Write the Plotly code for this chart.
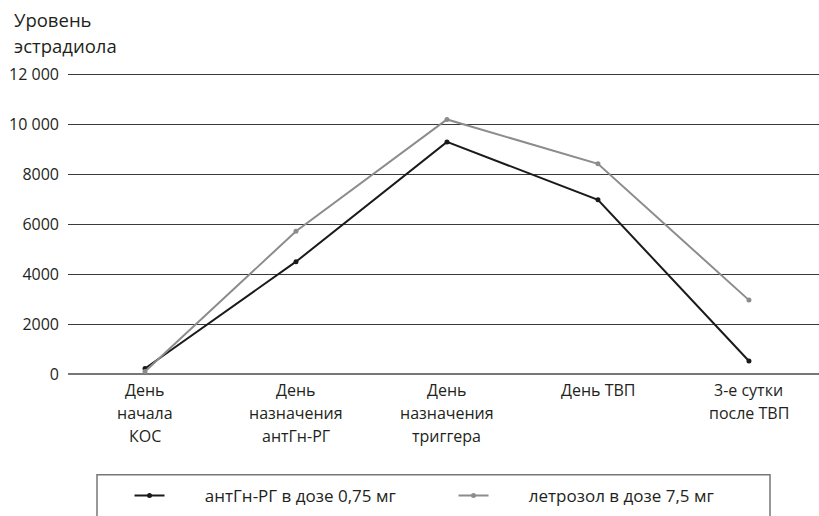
import plotly.graph_objects as go

categories = ["День<br>начала<br>КОС", "День<br>назначения<br>антГн-РГ", "День<br>назначения<br>триггера",
              "День ТВП", "3-е сутки<br>после ТВП"]
antgn = [220, 4500, 9300, 6980, 520]
letrozol = [100, 5720, 10200, 8420, 2960]
series_names = ["антГн-РГ в дозе 0,75 мг", "летрозол в дозе 7,5 мг"]
y_ticks = [0, 2000, 4000, 6000, 8000, 10000, 12000]
y_ticktext = ["0", "2000", "4000", "6000", "8000", "10 000", "12 000"]
title_lines = ["Уровень", "эстрадиола"]

FONT = "Open Sans"
TXT = "#231f20"
x_idx = list(range(len(categories)))
PAD = "\u00a0" * 8

fig = go.Figure()
fig.add_trace(go.Scatter(x=x_idx, y=antgn, mode="lines+markers", name=PAD + series_names[0],
                         line=dict(color="#1a1a1a", width=2), marker=dict(size=5, color="#1a1a1a")))
fig.add_trace(go.Scatter(x=x_idx, y=letrozol, mode="lines+markers", name=PAD + series_names[1],
                         line=dict(color="#8c8c8c", width=2), marker=dict(size=5, color="#8c8c8c")))

# category labels, one annotation per line
for i, cat in enumerate(categories):
    for k, line in enumerate(cat.split("<br>")):
        fig.add_annotation(x=i, y=0, xref="x", yref="y", text=line, showarrow=False,
                           yshift=-(16 + 23 * k), font=dict(family=FONT, size=16, color=TXT))

# plot area: x 68..819, y=0 at 374
PW = 751.0
PH = 302.5
for k, t in enumerate(title_lines):
    fig.add_annotation(x=(12 - 68) / PW, y=(374 - (19 + 26 * k)) / PH, xref="paper", yref="paper",
                       text=t, showarrow=False, xanchor="left", yanchor="middle",
                       font=dict(family=FONT, size=18.5, color=TXT))

fig.update_layout(
    width=819, height=516,
    margin=dict(l=68, r=0, t=71.5, b=142, pad=0, autoexpand=False),
    paper_bgcolor="white", plot_bgcolor="white",
    font=dict(family=FONT, size=16, color=TXT),
    xaxis=dict(range=[-0.51, 4.464], showticklabels=False, showgrid=False, zeroline=False,
               showline=False, ticks=""),
    yaxis=dict(range=[0, 12100], tickvals=y_ticks, ticktext=y_ticktext, showgrid=True,
               gridcolor="#3a3a3a", gridwidth=1, zeroline=True, zerolinecolor="#777777",
               zerolinewidth=1.5, ticks="", ticklabelstandoff=8, showline=False),
    showlegend=True,
    legend=dict(orientation="h", x=(129.5 - 68) / PW, y=(374 - 478) / PH, xanchor="left", yanchor="top",
                entrywidth=279, entrywidthmode="pixels", bgcolor="rgba(0,0,0,0)",
                font=dict(family=FONT, size=17, color=TXT)),
    shapes=[dict(type="rect", xref="paper", yref="paper", x0=(97 - 68) / PW, x1=(770 - 68) / PW,
                 y0=(374 - 475) / PH, y1=(374 - 540) / PH, line=dict(color="#777777", width=1.5))],
)

fig.write_html("out.html", config={"displayModeBar": False},
               post_script="document.body.style.margin='0';")
